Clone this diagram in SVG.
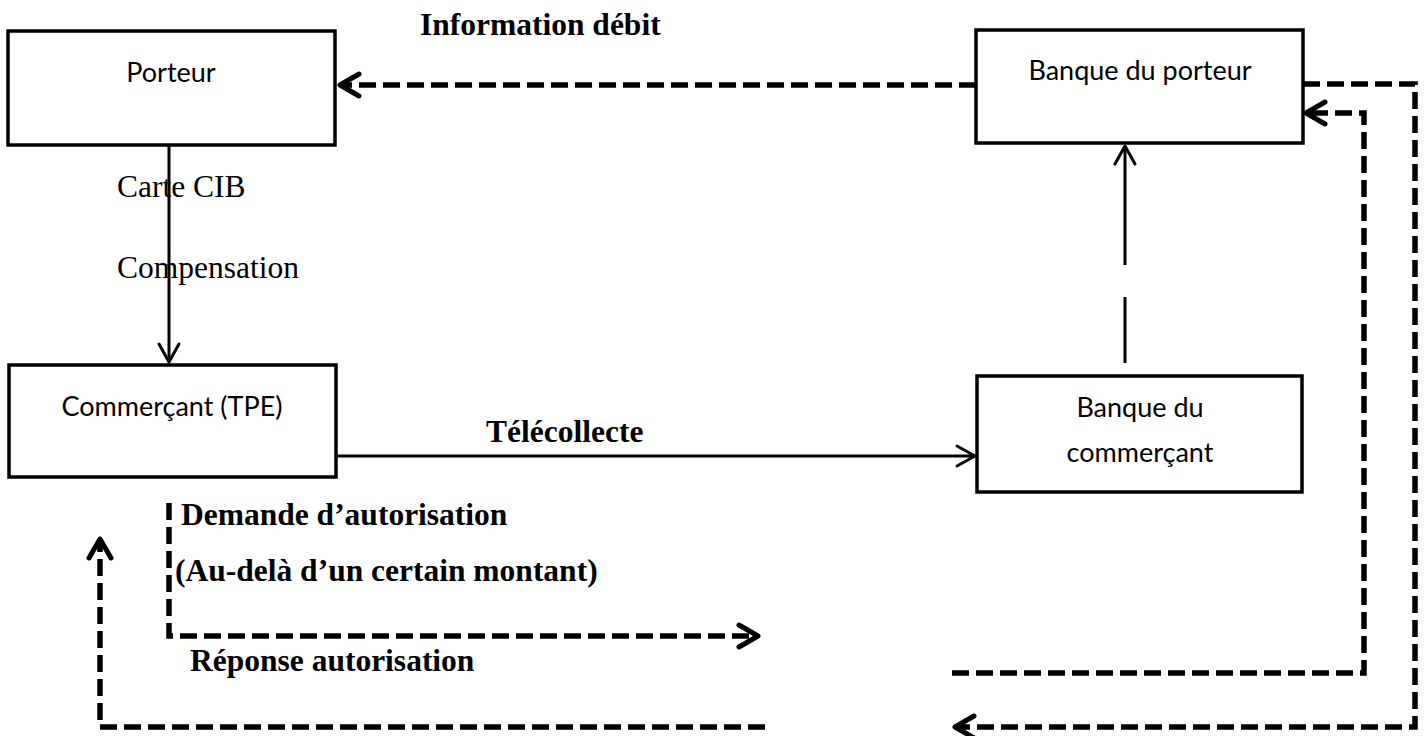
<svg xmlns="http://www.w3.org/2000/svg" width="1424" height="736" viewBox="0 0 1424 736">
<style>
.box{fill:#fff;stroke:#000;stroke-width:3.5}
.nt{font-family:Lato,"Open Sans","DejaVu Sans",sans-serif;font-size:27px;fill:#000;text-anchor:middle}
.lb{font-family:"Liberation Serif","Times New Roman",serif;font-size:31.5px;fill:#000}
.b{font-weight:bold}
.solid{fill:none;stroke:#000;stroke-width:3}
.dash{fill:none;stroke:#000;stroke-width:5.5;stroke-dasharray:17 7}
</style>
<defs>
<marker id="ah" viewBox="-24 -16 28 32" refX="0" refY="0" markerUnits="userSpaceOnUse" markerWidth="28" markerHeight="32" orient="auto">
<path d="M -18 -10 L 0 0 L -18 10" fill="none" stroke="#000" stroke-width="3" stroke-linecap="round" stroke-linejoin="round"/>
</marker>
<marker id="ahd" viewBox="-26 -18 30 36" refX="0" refY="0" markerUnits="userSpaceOnUse" markerWidth="30" markerHeight="36" orient="auto">
<path d="M -19 -11 L 0 0 L -19 11" fill="none" stroke="#000" stroke-width="5" stroke-linecap="round" stroke-linejoin="round"/>
</marker>
</defs>
<rect width="1424" height="736" fill="#fff"/>
<g id="connectors">
<path class="dash" d="M 976 85 H 340" marker-end="url(#ahd)"/>
<path class="solid" d="M 169 145 V 362" marker-end="url(#ah)"/>
<path class="solid" d="M 336 456 H 975" marker-end="url(#ah)"/>
<path class="solid" d="M 1125 363 V 297"/>
<path class="solid" d="M 1125 265 V 146" marker-end="url(#ah)"/>
<path class="dash" d="M 1303 84 H 1415 V 727 H 955" marker-end="url(#ahd)"/>
<path class="dash" d="M 952 673 H 1364 V 113 H 1306" marker-end="url(#ahd)"/>
<path class="dash" d="M 169 503 V 636 H 758" marker-end="url(#ahd)"/>
<path class="dash" d="M 765 727 H 100 V 539" marker-end="url(#ahd)"/>
</g>
<g id="labels">
<text class="lb b" x="420" y="35">Information débit</text>
<text class="lb" x="117" y="197">Carte CIB</text>
<text class="lb" x="117" y="278">Compensation</text>
<text class="lb b" x="486" y="442">Télécollecte</text>
<text class="lb b" x="181" y="525">Demande d’autorisation</text>
<text class="lb b" x="175" y="581">(Au-delà d’un certain montant)</text>
<text class="lb b" x="190" y="671">Réponse autorisation</text>
</g>
<g id="porteur">
<rect class="box" x="8" y="31" width="327" height="114"/>
<text class="nt" x="171" y="82">Porteur</text>
</g>
<g id="banque-porteur">
<rect class="box" x="976" y="30" width="327" height="113"/>
<text class="nt" x="1140" y="80">Banque du porteur</text>
</g>
<g id="commercant">
<rect class="box" x="9" y="365" width="327" height="112"/>
<text class="nt" x="172" y="416">Commerçant (TPE)</text>
</g>
<g id="banque-commercant">
<rect class="box" x="977" y="376" width="325" height="116"/>
<text class="nt" x="1140" y="417">Banque du</text>
<text class="nt" x="1140" y="462">commerçant</text>
</g>
</svg>
